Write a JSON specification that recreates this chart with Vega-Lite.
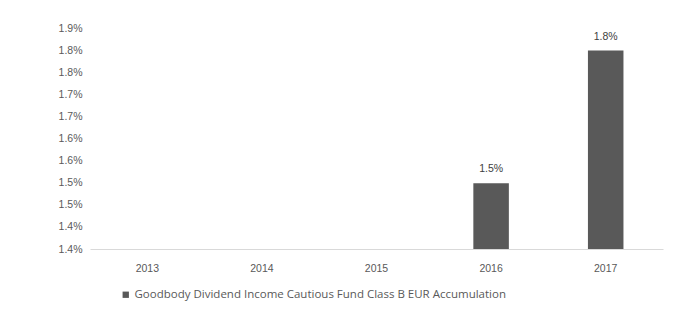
{
  "$schema": "https://vega.github.io/schema/vega-lite/v6.json",
  "width": 573,
  "height": 221,
  "autosize": {"type": "none"},
  "padding": {"left": 90, "top": 28, "right": 14, "bottom": 64},
  "background": "white",
  "config": {
    "view": {"stroke": null},
    "font": "Liberation Sans",
    "axis": {"labelColor": "#595959", "labelFont": "Liberation Sans", "labelFontSize": 10.5}
  },
  "data": {
    "values": [
      {"year": "2016", "value": 0.01549, "series": "Goodbody Dividend Income Cautious Fund Class B EUR Accumulation"},
      {"year": "2017", "value": 0.01849, "series": "Goodbody Dividend Income Cautious Fund Class B EUR Accumulation"}
    ]
  },
  "encoding": {
    "x": {
      "field": "year", "type": "nominal",
      "scale": {"domain": ["2013", "2014", "2015", "2016", "2017"], "paddingInner": 0.69, "paddingOuter": 0.345},
      "axis": {"title": null, "labelAngle": 0, "ticks": false, "domainColor": "#d9d9d9", "labelPadding": 14}
    },
    "y": {
      "field": "value", "type": "quantitative",
      "scale": {"domain": [0.014, 0.019], "zero": false, "clamp": true},
      "axis": {
        "title": null, "grid": false, "domain": false, "ticks": false, "labelPadding": 8,
        "values": [0.014, 0.0145, 0.015, 0.0155, 0.016, 0.0165, 0.017, 0.0175, 0.018, 0.0185, 0.019],
        "labelExpr": "format(datum.value - 0.000001, '.1%')"
      }
    }
  },
  "layer": [
    {
      "mark": {"type": "bar", "color": "#595959"},
      "encoding": {
        "color": {
          "field": "series", "type": "nominal",
          "scale": {"range": ["#595959"]},
          "legend": {
            "title": null, "orient": "none", "legendX": 30, "legendY": 261,
            "symbolType": "square", "symbolSize": 40, "labelColor": "#595959",
            "labelFontSize": 11.5, "labelFont": "Open Sans", "symbolStrokeWidth": 0,
            "labelLimit": 600, "labelOffset": 3
          }
        }
      }
    },
    {
      "mark": {"type": "text", "dy": -14, "color": "#404040", "fontSize": 10.5},
      "encoding": {"text": {"field": "value", "type": "quantitative", "format": ".1%"}}
    }
  ]
}
